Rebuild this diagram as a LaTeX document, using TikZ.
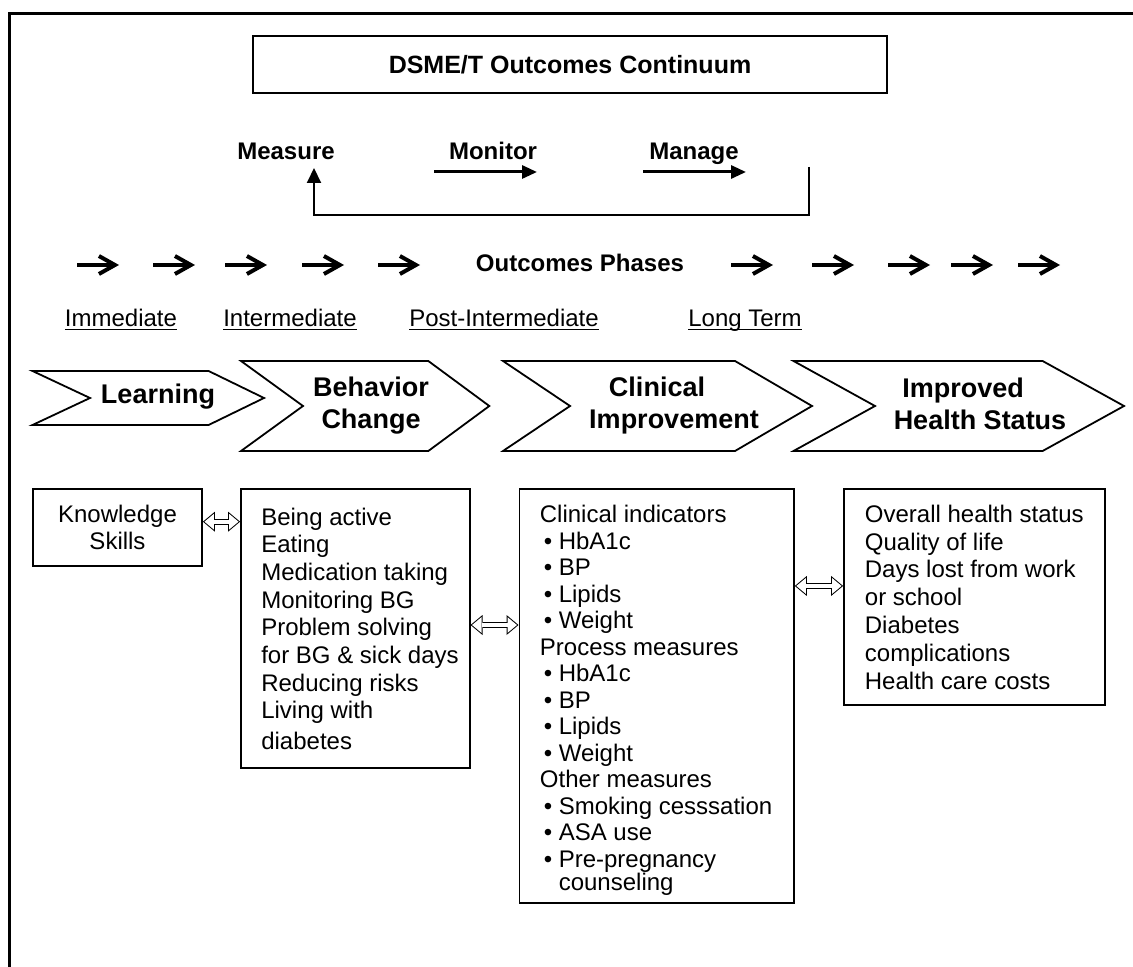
\documentclass[tikz,border=0pt]{standalone}
\usepackage{fontspec}
\setmainfont{Liberation Sans}
\usetikzlibrary{arrows.meta}
\newsavebox{\phasebox}
\newcommand{\phaseul}[1]{\sbox{\phasebox}{#1}\rlap{\rule[-1.7pt]{\wd\phasebox}{0.85pt}}\usebox{\phasebox}}
\newcommand{\clinbullet}{\hspace*{2pt}\makebox[7.45pt][l]{\textbullet}}
\tikzset{
    box/.style={draw,line width=0.9pt,inner sep=0pt},
    chev/.style={draw,line width=0.9pt,line join=miter},
    chevlabel/.style={font=\fontsize{13.5}{16}\selectfont\bfseries,align=center,inner sep=0pt},
    body/.style={font=\fontsize{12}{13.85}\selectfont,align=left,inner sep=0pt},
    stage/.style={font=\fontsize{12}{14}\selectfont\bfseries,anchor=base,inner sep=0pt},
    phase/.style={font=\fontsize{12}{14}\selectfont,anchor=base,inner sep=0pt},
    phasear/.style={line width=2pt,-{Straight Barb[length=8pt,width=9pt]}},
    cyclear/.style={line width=1.5pt,-{Triangle[length=7.5pt,width=6.5pt]}},
    backar/.style={line width=1pt,-{Triangle[length=7.5pt,width=7pt]}},
    linkout/.style={line width=3pt,{Triangle[length=6pt,width=10pt,line width=0pt]}-{Triangle[length=6pt,width=10pt,line width=0pt]}},
    linkin/.style={white,line width=2pt,shorten <=0.78pt,shorten >=0.78pt,{Triangle[length=4.72pt,width=7.87pt,line width=0pt]}-{Triangle[length=4.72pt,width=7.87pt,line width=0pt]}}
}
\begin{document}
\begin{tikzpicture}[x=0.5pt,y=-0.5pt]
    \useasboundingbox (0,0) rectangle (1133,967);
    \draw[line width=1.5pt] (1133,14) -- (9.5,14) -- (9.5,967);
    \node[box,minimum width=317pt,minimum height=28.5pt,font=\fontsize{12.5}{15}\selectfont\bfseries] (title) at (570,64.5) {DSME/T Outcomes Continuum};
    % measure - monitor - manage
    \node[stage] (meas) at (286,160) {Measure};
    \node[stage] (mon) at (493,160) {Monitor};
    \node[stage] (man) at (694,160) {Manage};
    \coordinate (monA) at (434,172);
    \coordinate (monB) at (537,172);
    \coordinate (manA) at (643,172);
    \coordinate (manB) at (746,172);
    \coordinate (backA) at (809,167);
    \coordinate (backB) at (314,168);
    \draw[cyclear] (monA) -- (monB);
    \draw[cyclear] (manA) -- (manB);
    \draw[backar] (backA) -- ++(0,48) -| (backB);
    % outcomes phases
    \foreach \x in {77,153,225,302,378,731,812,888,951,1018}
        \draw[phasear] (\x,265) -- ++(42,0);
    \node[stage] (phases) at (580,272) {Outcomes Phases};
    \node[phase] (imm) at (121,327) {\phaseul{Immediate}};
    \node[phase] (inter) at (290,327) {\phaseul{Intermediate}};
    \node[phase] (post) at (504,327) {\phaseul{Post-Intermediate}};
    \node[phase] (long) at (745,327) {\phaseul{Long Term}};
    % chevrons
    \draw[chev] (32.5,371) -- (208.6,371) -- (264,398) -- (208.6,425) -- (32.5,425) -- (90,398) -- cycle;
    \draw[chev] (241,361) -- (428.3,361) -- (489.3,406) -- (428.3,451) -- (241,451) -- (303,406) -- cycle;
    \draw[chev] (503,361) -- (735,361) -- (812,406) -- (735,451) -- (503,451) -- (570,406) -- cycle;
    \draw[chev] (793.5,361) -- (1042.6,361) -- (1124,406) -- (1042.6,451) -- (793.5,451) -- (875,406) -- cycle;
    \node[chevlabel,anchor=base] (learn) at (158,403) {Learning};
    \node[chevlabel] (behavlab) at (371,406) {Behavior\\Change};
    \node[chevlabel] (clinlab) at (674,406) {Clinical\hspace*{17pt}\\Improvement};
    \node[chevlabel] (healthlab) at (980,404) {Improved\hspace*{17pt}\\Health Status};
    % outcome boxes
    \node[box,body,align=center,minimum width=84.5pt,minimum height=38.2pt] (know) at (117.5,527.5) {Knowledge\\Skills};
    \node[box,minimum width=114.3pt,minimum height=139.2pt] (behav) at (355.3,628.5) {};
    \node[body,anchor=west] (behavtext) at ([xshift=10.4pt]behav.west) {Being active\\Eating\\Medication taking\\Monitoring BG\\Problem solving\\for BG \& sick days\\Reducing risks\\Living with\\[1.2pt]diabetes};
    \node[box,minimum width=137.25pt,minimum height=207pt] (clin) at (656.65,696.3) {};
    \node[body,anchor=west,font=\fontsize{12}{13.25}\selectfont] (clintext) at ([xshift=10.5pt,yshift=-2pt]clin.west) {Clinical indicators\\
        \clinbullet HbA1c\\\clinbullet BP\\\clinbullet Lipids\\\clinbullet Weight\\
        Process measures\\
        \clinbullet HbA1c\\\clinbullet BP\\\clinbullet Lipids\\\clinbullet Weight\\
        Other measures\\
        \clinbullet Smoking cesssation\\\clinbullet ASA use\\\clinbullet Pre-pregnancy\\[-1.5pt]
        \hspace*{9.45pt}counseling};
    \node[box,minimum width=130.4pt,minimum height=107.85pt] (health) at (974.4,597.15) {};
    \node[body,anchor=west,font=\fontsize{12}{13.9}\selectfont] (healthtext) at ([xshift=10.7pt]health.west) {Overall health status\\Quality of life\\Days lost from work\\or school\\Diabetes\\complications\\Health care costs};
    % hollow two-way links
    \coordinate (linkA1) at ([yshift=2.9pt]know.east);
    \coordinate (linkA2) at ([yshift=2.9pt]know.east -| behav.west);
    \coordinate (linkB1) at ([yshift=1.75pt]behav.east);
    \coordinate (linkB2) at ([yshift=1.75pt]behav.east -| clin.west);
    \coordinate (linkC1) at ([yshift=5.6pt]clin.east |- health.west);
    \coordinate (linkC2) at ([yshift=5.6pt]health.west);
    \foreach \a/\b in {linkA1/linkA2,linkB1/linkB2,linkC1/linkC2} {
        \draw[linkout] (\a) -- (\b);
        \draw[linkin] (\a) -- (\b);
    }
\end{tikzpicture}
\end{document}
